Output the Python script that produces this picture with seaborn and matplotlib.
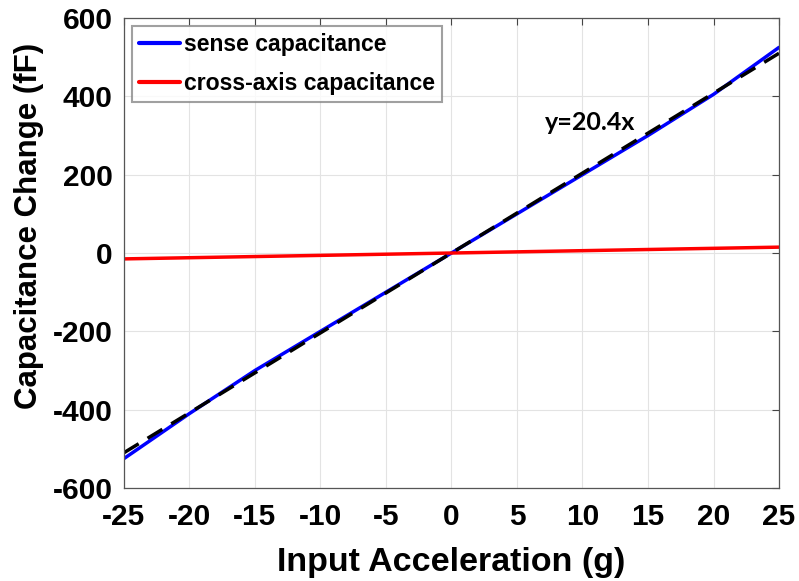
import numpy as np
import pandas as pd
import matplotlib
matplotlib.use("Agg")
import matplotlib.pyplot as plt
import seaborn as sns

accel = [-25, -20, -15, -10, -5, 0, 5, 10, 15, 20, 25]
sense = [-525, -410, -300, -200, -100, 0, 100, 200, 300, 405, 525]
cross = [-15, -12, -9, -6, -3, 0, 3, 6, 9, 12, 15]
fit_slope = 20.4
fit_x = [-25, 25]
xticks = [-25, -20, -15, -10, -5, 0, 5, 10, 15, 20, 25]
yticks = [-600, -400, -200, 0, 200, 400, 600]

sns.set_theme(style="whitegrid")
plt.rcParams['font.family'] = ['Liberation Sans', 'DejaVu Sans']
plt.rcParams['font.weight'] = 'bold'
plt.rcParams['axes.unicode_minus'] = False
plt.rcParams['text.color'] = 'black'
plt.rcParams['axes.labelcolor'] = 'black'
plt.rcParams['xtick.color'] = 'black'
plt.rcParams['ytick.color'] = 'black'

fig = plt.figure(figsize=(7.99, 5.81), dpi=100)
ax = fig.add_axes([0.155, 0.160, 0.820, 0.809])

df = pd.DataFrame({"x": accel, "sense": sense, "cross": cross})
sns.lineplot(data=df, x="x", y="sense", ax=ax, color="#0000ff", lw=2.5,
             label="sense capacitance")
sns.lineplot(data=df, x="x", y="cross", ax=ax, color="#ff0000", lw=2.5,
             label="cross-axis capacitance")
fx = np.array(fit_x, dtype=float)
sns.lineplot(x=fx, y=fit_slope * fx, ax=ax, color="black", lw=2.5,
             linestyle=(0, (5, 3)), label="_nolegend_")

ax.set_xlim(-25, 25)
ax.set_ylim(-600, 600)
ax.set_xticks(xticks)
ax.set_yticks(yticks)
ax.tick_params(axis='both', labelsize=21.5, direction='in', length=5,
               color='#444444', width=0.8, top=True, right=True)
ax.tick_params(axis='x', pad=11)
ax.tick_params(axis='y', pad=8)
for lab in ax.get_xticklabels() + ax.get_yticklabels():
    lab.set_fontweight('bold')
ax.grid(True, color='#e3e3e3', lw=0.8)
for s in ax.spines.values():
    s.set_visible(True)
    s.set_color('#555555')
    s.set_linewidth(0.9)
ax.set_facecolor('white')

ax.set_xlabel("Input Acceleration (g)", fontsize=24.5, fontweight='bold', labelpad=11)
ax.set_ylabel("Capacitance Change (fF)", fontsize=22.5, fontweight='bold', labelpad=6)
ax.yaxis.label.set_y(0.557)

ax.text(10.6, 332, "y=20.4x", fontsize=18, fontweight='bold', ha='center', va='center',
        family=['Lato', 'DejaVu Sans'])

leg = ax.legend(loc='upper left', fontsize=16.6, frameon=True, fancybox=False,
                edgecolor='#888888', handlelength=1.8, handletextpad=0.15,
                borderaxespad=0.35, borderpad=0.3, labelspacing=0.7)
leg.get_frame().set_linewidth(1.5)
for t in leg.get_texts():
    t.set_fontweight('bold')
for h in leg.get_lines():
    h.set_linewidth(3)

fig.savefig("out.png", dpi=100, facecolor='white')
